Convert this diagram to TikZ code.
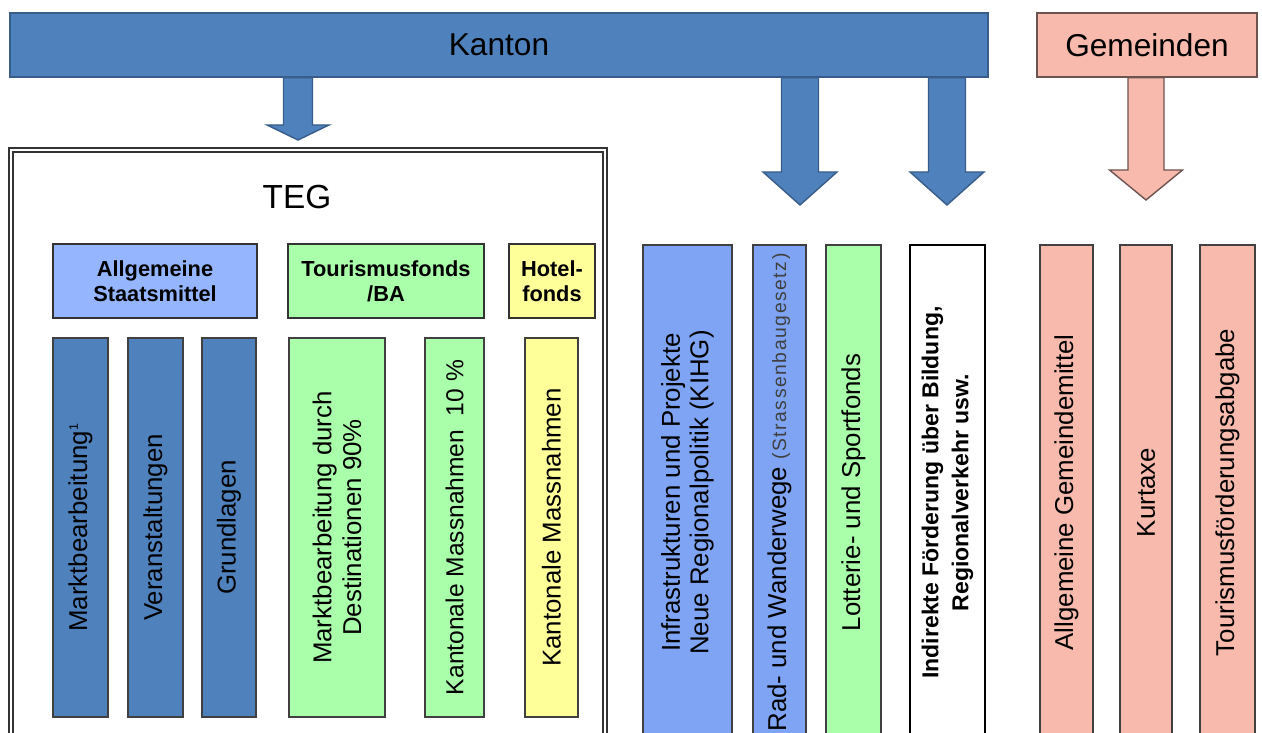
\documentclass[tikz,border=0pt]{standalone}
\usepackage{fontspec}
\setmainfont{Liberation Sans}
\newfontfamily\spacedfont[LetterSpace=8]{Liberation Sans}
\usetikzlibrary{calc}
\definecolor{KantonBlue}{HTML}{4F81BD}
\definecolor{KantonLine}{HTML}{385D8A}
\definecolor{LightBlue}{HTML}{95B5FF}
\definecolor{MidBlue}{HTML}{7EA4F3}
\definecolor{FondsGreen}{HTML}{AAFFAA}
\definecolor{FondsYellow}{HTML}{FFFF99}
\definecolor{GemPink}{HTML}{F8BAAD}
\definecolor{GemLine}{HTML}{6E5450}
\newcommand{\pxs}{0.02cm}
% block arrow: [style]{start}{tip}{half shaft}{half head}{head length}
\newcommand{\blockarrow}[6][]{%
  \draw[#1] ($(#2)+(-#4,0)$) -- ($(#3)+(-#4,-#6)$) -- ($(#3)+(-#5,-#6)$) -- (#3)
    -- ($(#3)+(#5,-#6)$) -- ($(#3)+(#4,-#6)$) -- ($(#2)+(#4,0)$) -- cycle;}
\tikzset{
  topbar/.style={line width=0.9pt, minimum height=64*\pxs, inner sep=0pt, font=\fontsize{18}{20}\selectfont},
  tegbox/.style={draw=black!80, line width=0.7pt, double=white, double distance=1.6pt, inner sep=0pt},
  headbox/.style={draw=black!80, line width=0.9pt, align=center, minimum height=74*\pxs, inner sep=0pt, font=\bfseries\fontsize{12.4}{14.2}\selectfont},
  column/.style={draw=black!75, line width=0.9pt, rotate=90, align=center, inner sep=0pt, font=\fontsize{14.7}{17}\selectfont},
  tegcol/.style={column, minimum width=379*\pxs},
  sidecol/.style={column, minimum width=495*\pxs},
  bluearrow/.style={fill=KantonBlue, draw=KantonLine, line width=0.8pt},
  pinkarrow/.style={fill=GemPink, draw=GemLine, line width=0.8pt}
}
\begin{document}
\begin{tikzpicture}[x=0.02cm, y=-0.02cm]
\useasboundingbox (0,0) rectangle (1262,733);
\node[topbar, fill=KantonBlue, draw=KantonLine, minimum width=978*\pxs] (kanton) at (499,45) {Kanton};
\node[topbar, fill=GemPink, draw=GemLine, minimum width=220*\pxs] (gemeinden) at (1147,45) {Gemeinden};

\node[tegbox, minimum width=594*\pxs, minimum height=620*\pxs] (teg) at (308,460) {};
\node[font=\fontsize{19}{21}\selectfont] (tegtitle) at (297,197) {TEG};

\node[headbox, fill=LightBlue, minimum width=204*\pxs] (staat) at (155,281) {Allgemeine\\Staatsmittel};
\node[headbox, fill=FondsGreen, minimum width=196*\pxs] (tfonds) at (386,281) {Tourismusfonds\\/BA};
\node[headbox, fill=FondsYellow, minimum width=86*\pxs] (hfonds) at (552,281) {Hotel-\\fonds};

\node[tegcol, fill=KantonBlue, minimum height=55*\pxs] (markt) at (80.5,527.5) {Marktbearbeitung\textsuperscript{\scriptsize 1}};
\node[tegcol, fill=KantonBlue, minimum height=55*\pxs] (veran) at (155.5,527.5) {Veranstaltungen};
\node[tegcol, fill=KantonBlue, minimum height=54*\pxs] (grund) at (229,527.5) {Grundlagen};
\node[tegcol, fill=FondsGreen, minimum height=96*\pxs] (destin) at (337,527.5) {Marktbearbeitung durch\\Destinationen 90\%};
\node[tegcol, fill=FondsGreen, minimum height=59*\pxs, font=\fontsize{14}{16}\selectfont] (kmass) at (454.5,527.5) {Kantonale Massnahmen~ 10~\%};
\node[tegcol, fill=FondsYellow, minimum height=53*\pxs] (hmass) at (551.5,527.5) {Kantonale Massnahmen};

\node[sidecol, fill=MidBlue, minimum height=89*\pxs, font=\fontsize{14.7}{16.2}\selectfont] (infra) at (687.5,492.5) {Infrastrukturen und Projekte\\Neue Regionalpolitik (KIHG)};
\node[sidecol, fill=MidBlue, minimum height=53*\pxs] (rad) at (779.5,492.5) {Rad- und Wanderwege {\spacedfont\fontsize{11}{13}\selectfont\color{black!75}(Strassenbaugesetz)}};
\node[sidecol, fill=FondsGreen, minimum height=55*\pxs] (lotto) at (853.5,492.5) {Lotterie- und Sportfonds};
\node[sidecol, fill=white, draw=black, line width=1.3pt, minimum height=75*\pxs, font=\bfseries\fontsize{13.1}{17}\selectfont] (indirekt) at (947.5,492.5) {Indirekte Förderung über Bildung,\\Regionalverkehr usw.};
\node[sidecol, fill=GemPink, minimum height=53*\pxs] (gmittel) at (1066.5,492.5) {Allgemeine Gemeindemittel};
\node[sidecol, fill=GemPink, minimum height=52*\pxs] (kurtaxe) at (1146,492.5) {Kurtaxe};
\node[sidecol, fill=GemPink, minimum height=55*\pxs] (tfa) at (1227.5,492.5) {Tourismusförderungsabgabe};

\coordinate (tipteg) at (298,140);
\coordinate (tiprad) at (800,205);
\coordinate (tipind) at (947,205);
\coordinate (tipgem) at (1146,200);
\blockarrow[bluearrow]{kanton.south -| tipteg}{tipteg}{14.5}{31}{15}
\blockarrow[bluearrow]{kanton.south -| tiprad}{tiprad}{18.5}{37}{33}
\blockarrow[bluearrow]{kanton.south -| tipind}{tipind}{18.5}{37}{33}
\blockarrow[pinkarrow]{gemeinden.south -| tipgem}{tipgem}{18}{36.5}{30}
\end{tikzpicture}
\end{document}
